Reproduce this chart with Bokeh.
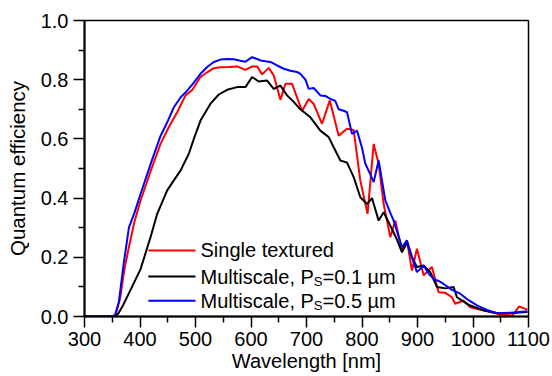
from bokeh.plotting import figure
from bokeh.models import Range1d, Label, FixedTicker, PrintfTickFormatter
from bokeh.embed import file_html
from bokeh.resources import INLINE

# ---- data ----
wl_single = [300, 350, 356, 364, 372, 380, 390, 401, 419, 437, 452, 467, 482, 494, 509, 521, 533, 545, 560, 575,
             590, 602, 611, 620, 632, 641, 653, 662, 674, 692, 704, 713, 728, 742, 758, 773, 785, 797, 810, 821,
             830, 839, 851, 860, 872, 881, 890, 899, 911, 926, 938, 950, 962, 968, 983, 995, 1020, 1050, 1071,
             1083, 1098]
qe_single = [0.0, 0.0, 0.005, 0.06, 0.16, 0.235, 0.32, 0.392, 0.49, 0.583, 0.64, 0.69, 0.747, 0.765, 0.809, 0.825,
             0.839, 0.842, 0.843, 0.845, 0.833, 0.845, 0.845, 0.818, 0.84, 0.814, 0.732, 0.786, 0.786, 0.694, 0.735,
             0.718, 0.651, 0.73, 0.611, 0.634, 0.63, 0.459, 0.347, 0.583, 0.516, 0.38, 0.268, 0.324, 0.223, 0.257,
             0.155, 0.229, 0.139, 0.167, 0.082, 0.08, 0.065, 0.043, 0.054, 0.031, 0.02, 0.007, 0.003, 0.034, 0.023]

wl_multi01 = [300, 355, 361, 370, 383, 401, 419, 431, 449, 461, 473, 488, 497, 509, 527, 542, 557, 575, 590, 602,
              614, 629, 641, 653, 665, 677, 689, 707, 725, 740, 749, 761, 773, 785, 797, 809, 818, 830, 839, 851,
              863, 872, 881, 890, 899, 911, 923, 935, 950, 965, 971, 983, 995, 1020, 1044, 1070, 1098]
qe_multi01 = [0.0, 0.0, 0.01, 0.04, 0.09, 0.16, 0.268, 0.347, 0.426, 0.46, 0.493, 0.55, 0.6, 0.662, 0.719, 0.75,
              0.766, 0.775, 0.775, 0.809, 0.794, 0.797, 0.769, 0.78, 0.747, 0.725, 0.70, 0.673, 0.628, 0.606, 0.572,
              0.527, 0.52, 0.471, 0.403, 0.38, 0.4, 0.324, 0.352, 0.307, 0.26, 0.217, 0.25, 0.2, 0.167, 0.172, 0.15,
              0.1, 0.095, 0.1, 0.065, 0.05, 0.037, 0.02, 0.011, 0.012, 0.015]

wl_multi05 = [300, 350, 355, 362, 370, 380, 390, 401, 420, 437, 450, 461, 473, 485, 497, 509, 521, 533, 545, 557,
              569, 581, 590, 602, 611, 617, 626, 635, 647, 659, 671, 683, 689, 698, 704, 713, 725, 734, 743, 752,
              758, 767, 773, 782, 791, 800, 806, 815, 821, 830, 836, 842, 851, 857, 866, 872, 881, 890, 899, 911,
              920, 929, 938, 947, 962, 977, 992, 1008, 1025, 1044, 1070, 1098]
qe_multi05 = [0.0, 0.0, 0.005, 0.05, 0.17, 0.3, 0.35, 0.414, 0.52, 0.61, 0.66, 0.707, 0.74, 0.763, 0.79, 0.82,
              0.843, 0.86, 0.868, 0.87, 0.869, 0.864, 0.861, 0.876, 0.87, 0.865, 0.862, 0.86, 0.848, 0.837, 0.83,
              0.826, 0.82, 0.8, 0.769, 0.772, 0.747, 0.745, 0.735, 0.728, 0.70, 0.695, 0.69, 0.617, 0.628, 0.57,
              0.516, 0.48, 0.454, 0.527, 0.46, 0.392, 0.35, 0.324, 0.27, 0.234, 0.257, 0.2, 0.15, 0.172, 0.145,
              0.127, 0.12, 0.11, 0.09, 0.077, 0.055, 0.037, 0.022, 0.011, 0.013, 0.018]

x_ticks = [300, 400, 500, 600, 700, 800, 900, 1000, 1100]
x_minor = [350, 450, 550, 650, 750, 850, 950, 1050]
y_ticks = [0.0, 0.2, 0.4, 0.6, 0.8, 1.0]
y_minor = [0.1, 0.3, 0.5, 0.7, 0.9]

legend_labels = ["Single textured", "Multiscale, P", "Multiscale, P"]
legend_sub = ["", "S", "S"]
legend_tail = ["", "=0.1 µm", "=0.5 µm"]
colors = ["#ff0000", "#000000", "#0000ff"]

FONT = "Liberation Sans"
LEG_FS = 20
SUB_FS = 13

p = figure(width=552, height=376, output_backend="svg", toolbar_location=None,
           x_range=Range1d(300, 1100), y_range=Range1d(0, 1.0),
           min_border_left=84, min_border_right=24, min_border_top=20, min_border_bottom=60)

p.grid.visible = False
p.outline_line_color = "black"
p.outline_line_width = 1.5
p.background_fill_color = "white"
p.border_fill_color = "white"

for ax in (p.xaxis[0], p.yaxis[0]):
    ax.axis_line_width = 2
    ax.major_tick_line_width = 1.5
    ax.minor_tick_line_width = 1.5
    ax.major_tick_in = 0
    ax.minor_tick_in = 0
    ax.major_tick_out = 11
    ax.minor_tick_out = 6
    ax.major_label_text_font = FONT
    ax.major_label_text_font_size = "20px"
    ax.major_label_text_color = "black"
    ax.axis_label_text_font = FONT
    ax.axis_label_text_font_style = "normal"
    ax.axis_label_text_color = "black"

p.xaxis.axis_label_text_font_size = "20px"
p.yaxis.axis_label_text_font_size = "20.5px"
p.xaxis.ticker = FixedTicker(ticks=x_ticks, minor_ticks=x_minor)
p.yaxis.ticker = FixedTicker(ticks=y_ticks, minor_ticks=y_minor)
p.yaxis.formatter = PrintfTickFormatter(format="%.1f")
p.xaxis.axis_label = "Wavelength [nm]"
p.yaxis.axis_label = "Quantum efficiency"
p.xaxis.major_label_standoff = 4
p.xaxis.axis_label_standoff = 1
p.yaxis.major_label_standoff = 5
p.yaxis.axis_label_standoff = 9

p.line(wl_single, qe_single, line_color=colors[0], line_width=2)
p.line(wl_multi01, qe_multi01, line_color=colors[1], line_width=2)
p.line(wl_multi05, qe_multi05, line_color=colors[2], line_width=2)

# manual legend (needed for the subscript)
leg_y = [0.223, 0.135, 0.053]
leg_x0, leg_x1, leg_tx = 415, 500, 509
w_main = 5.668 * LEG_FS
for i in range(3):
    p.line([leg_x0, leg_x1], [leg_y[i], leg_y[i]], line_color=colors[i], line_width=2)
    p.add_layout(Label(x=leg_tx, y=leg_y[i], text=legend_labels[i], text_font=FONT,
                       text_font_size=f"{LEG_FS}px", text_baseline="middle", text_align="left",
                       text_color="black"))
    if legend_sub[i]:
        p.add_layout(Label(x=leg_tx, y=leg_y[i], x_offset=w_main, y_offset=-5, text=legend_sub[i],
                           text_font=FONT, text_font_size=f"{SUB_FS}px", text_baseline="middle",
                           text_align="left", text_color="black"))
        p.add_layout(Label(x=leg_tx, y=leg_y[i], x_offset=w_main + 0.667 * SUB_FS, text=legend_tail[i],
                           text_font=FONT, text_font_size=f"{LEG_FS}px", text_baseline="middle",
                           text_align="left", text_color="black"))

open("out.html", "w").write(file_html(p, INLINE))
